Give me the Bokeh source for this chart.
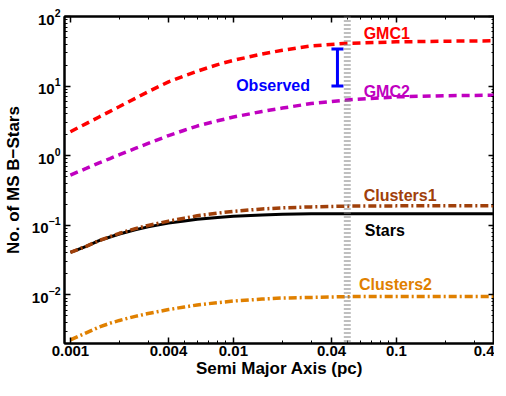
from bokeh.plotting import figure
from bokeh.models import (Range1d, FixedTicker, LogAxis, CustomJSTickFormatter, Label,
                          Whisker, TeeHead, ColumnDataSource, Span, LogTickFormatter)
from bokeh.embed import file_html
from bokeh.resources import INLINE

# ---- data ----
semi_major_axis = [0.001, 0.00125, 0.0015, 0.00175, 0.002, 0.0025, 0.003, 0.004, 0.005, 0.006,
                   0.008, 0.01, 0.015, 0.02, 0.03, 0.05, 0.1, 0.2, 0.4]
gmc1 = [2.21, 2.89, 3.60, 4.33, 5.08, 6.66, 8.31, 11.48, 14.03, 16.35,
        20.37, 23.46, 28.88, 32.77, 37.76, 41.2, 43.2, 44.2, 44.7]
gmc2 = [0.527, 0.656, 0.786, 0.910, 1.035, 1.27, 1.498, 1.943, 2.321, 2.665,
        3.17, 3.595, 4.317, 4.828, 5.616, 6.336, 7.0, 7.28, 7.40]
clusters1 = [0.0407, 0.0498, 0.0603, 0.0687, 0.0767, 0.0895, 0.0993, 0.1148, 0.1265, 0.1368,
             0.1496, 0.1585, 0.1714, 0.178, 0.1837, 0.1884, 0.190, 0.1905, 0.191]
stars = [0.0407, 0.0498, 0.0603, 0.0678, 0.0750, 0.0861, 0.0948, 0.1074, 0.1153, 0.1222,
         0.1294, 0.1343, 0.1406, 0.1439, 0.1459, 0.1466, 0.1466, 0.1466, 0.1466]
clusters2 = [0.00225, 0.00285, 0.00345, 0.00391, 0.00429, 0.00491, 0.00539, 0.00615, 0.00669, 0.00716,
             0.00773, 0.00815, 0.00870, 0.00901, 0.00919, 0.00943, 0.00947, 0.00947, 0.00947]

observed_x = [0.0435]
observed_low = [10.0]
observed_high = [34.0]
marker_line_x = 0.05

x_major_ticks = [0.001, 0.004, 0.01, 0.04, 0.1, 0.4]
x_minor_ticks = [0.002, 0.003, 0.005, 0.006, 0.007, 0.008, 0.009,
                 0.02, 0.03, 0.05, 0.06, 0.07, 0.08, 0.09, 0.2, 0.3]
y_major_ticks = [0.01, 0.1, 1, 10, 100]
y_minor_ticks = [m * d for d in [0.001, 0.01, 0.1, 1, 10] for m in range(2, 10)]

FONT = "Liberation Sans"

p = figure(width=494, height=380, x_axis_type="log", y_axis_type="log",
           x_range=Range1d(0.00092, 0.4), y_range=Range1d(0.002, 100),
           output_backend="svg", toolbar_location=None,
           min_border_left=57, min_border_right=0, min_border_top=16, min_border_bottom=0)
p.xgrid.visible = False
p.ygrid.visible = False
p.outline_line_color = "black"
p.outline_line_width = 2
p.background_fill_color = "white"
p.border_fill_color = "white"

def style_axis(ax, label=True):
    ax.axis_line_width = 2
    ax.axis_line_color = "black"
    ax.major_tick_in = 6
    ax.major_tick_out = 0
    ax.minor_tick_in = 3
    ax.minor_tick_out = 0
    ax.major_tick_line_width = 1.5
    ax.minor_tick_line_width = 1
    ax.major_label_text_font = FONT
    ax.major_label_text_font_style = "bold"
    ax.major_label_text_font_size = "15px"
    ax.major_label_text_color = "black"
    ax.axis_label_text_font = FONT
    ax.axis_label_text_font_style = "bold"
    ax.axis_label_text_font_size = "17px"
    ax.axis_label_text_color = "black"
    if not label:
        ax.major_label_text_font_size = "0px"
        ax.major_label_standoff = 0
        ax.axis_label_standoff = 0

xt = FixedTicker(ticks=x_major_ticks, minor_ticks=x_minor_ticks)
yt = FixedTicker(ticks=y_major_ticks, minor_ticks=y_minor_ticks)

p.xaxis.ticker = xt
p.yaxis.ticker = yt
p.xaxis.formatter = CustomJSTickFormatter(code="return tick.toString();")
p.yaxis.formatter = LogTickFormatter()
for ax in p.xaxis + p.yaxis:
    style_axis(ax)
p.xaxis.axis_label = "Semi Major Axis (pc)"
p.yaxis.axis_label = "No. of MS B\u2212Stars"
p.xaxis.major_label_standoff = 2
p.xaxis.axis_label_standoff = 0
p.yaxis.major_label_standoff = 4
p.yaxis.axis_label_standoff = 6

blank = CustomJSTickFormatter(code="return '';")
top = LogAxis(ticker=xt, formatter=blank)
right = LogAxis(ticker=yt, formatter=blank)
style_axis(top, label=False)
style_axis(right, label=False)
p.add_layout(top, "above")
p.add_layout(right, "right")

src = ColumnDataSource(dict(x=semi_major_axis, gmc1=gmc1, gmc2=gmc2,
                            c1=clusters1, st=stars, c2=clusters2))

p.line("x", "gmc1", source=src, line_color="#ff0000", line_width=3.5, line_dash="8 5")
p.line("x", "gmc2", source=src, line_color="#c000c0", line_width=3.5, line_dash="8 5")
p.line("x", "st", source=src, line_color="black", line_width=3)
p.line("x", "c1", source=src, line_color="#a0400a", line_width=3.5, line_dash="8 3 2 3")
p.line("x", "c2", source=src, line_color="#e08000", line_width=3.5, line_dash="8 3 2 3")

p.add_layout(Span(location=marker_line_x, dimension="height", line_color="#808080",
                  line_width=7, line_dash="1 3"))

obs = ColumnDataSource(dict(x=observed_x, lo=observed_low, hi=observed_high))
p.add_layout(Whisker(base="x", lower="lo", upper="hi", source=obs, line_color="#0000ff", line_width=3,
                     upper_head=TeeHead(size=12, line_color="#0000ff", line_width=3),
                     lower_head=TeeHead(size=12, line_color="#0000ff", line_width=3)))

def lab(x, y, text, color):
    p.add_layout(Label(x=x, y=y, text=text, text_color=color, text_font=FONT,
                       text_font_style="bold", text_font_size="16px",
                       text_baseline="middle", text_align="left"))

lab(0.063, 57, "GMC1", "#ff0000")
lab(0.063, 8.4, "GMC2", "#c000c0")
lab(0.0104, 10.3, "Observed", "#0000ff")
lab(0.063, 0.27, "Clusters1", "#a0400a")
lab(0.064, 0.0834, "Stars", "black")
lab(0.059, 0.0143, "Clusters2", "#e08000")

open("out.html", "w").write(file_html(p, INLINE))
